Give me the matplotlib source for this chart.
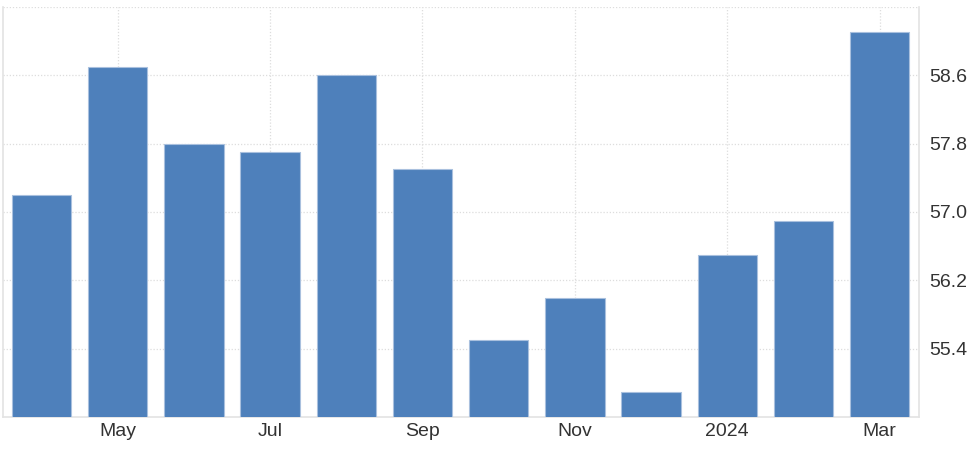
import matplotlib.pyplot as plt
import numpy as np

plt.rcParams['font.family'] = ['Liberation Sans', 'DejaVu Sans']

months = ['Apr', 'May', 'Jun', 'Jul', 'Aug', 'Sep', 'Oct', 'Nov', 'Dec', '2024', 'Feb', 'Mar']
values = [57.2, 58.7, 57.8, 57.7, 58.6, 57.5, 55.5, 56.0, 54.9, 56.5, 56.9, 59.1]
yticks = [55.4, 56.2, 57.0, 57.8, 58.6]

x = np.arange(len(months))

fig = plt.figure(figsize=(9.75, 4.5), dpi=100)
ax = fig.add_axes([0.0034, 0.0727, 0.9395, 0.9124])

ax.bar(x, values, width=0.78, color='#4e80bb', edgecolor='#a9c0de', linewidth=0.8, zorder=3)

ax.set_xlim(-0.5, 11.52)
ax.set_ylim(54.6, 59.4)

ax.set_xticks(x[1::2])
ax.set_xticklabels(months[1::2])
ax.set_yticks(yticks + [59.4])
ax.set_yticklabels([f'{v:.1f}' for v in yticks] + [''])
ax.yaxis.tick_right()

ax.tick_params(axis='both', length=0, labelsize=14, colors='#333333')
ax.tick_params(axis='x', pad=4)
ax.tick_params(axis='y', pad=7)

ax.grid(True, linestyle=(0, (1, 1.5)), color='#dddddd', linewidth=0.9, zorder=0)

for side in ['left', 'right', 'bottom']:
    ax.spines[side].set_color('#e3e3e3')
    ax.spines[side].set_linewidth(1.2)
ax.spines['top'].set_visible(False)

plt.savefig('out.png', dpi=100)
